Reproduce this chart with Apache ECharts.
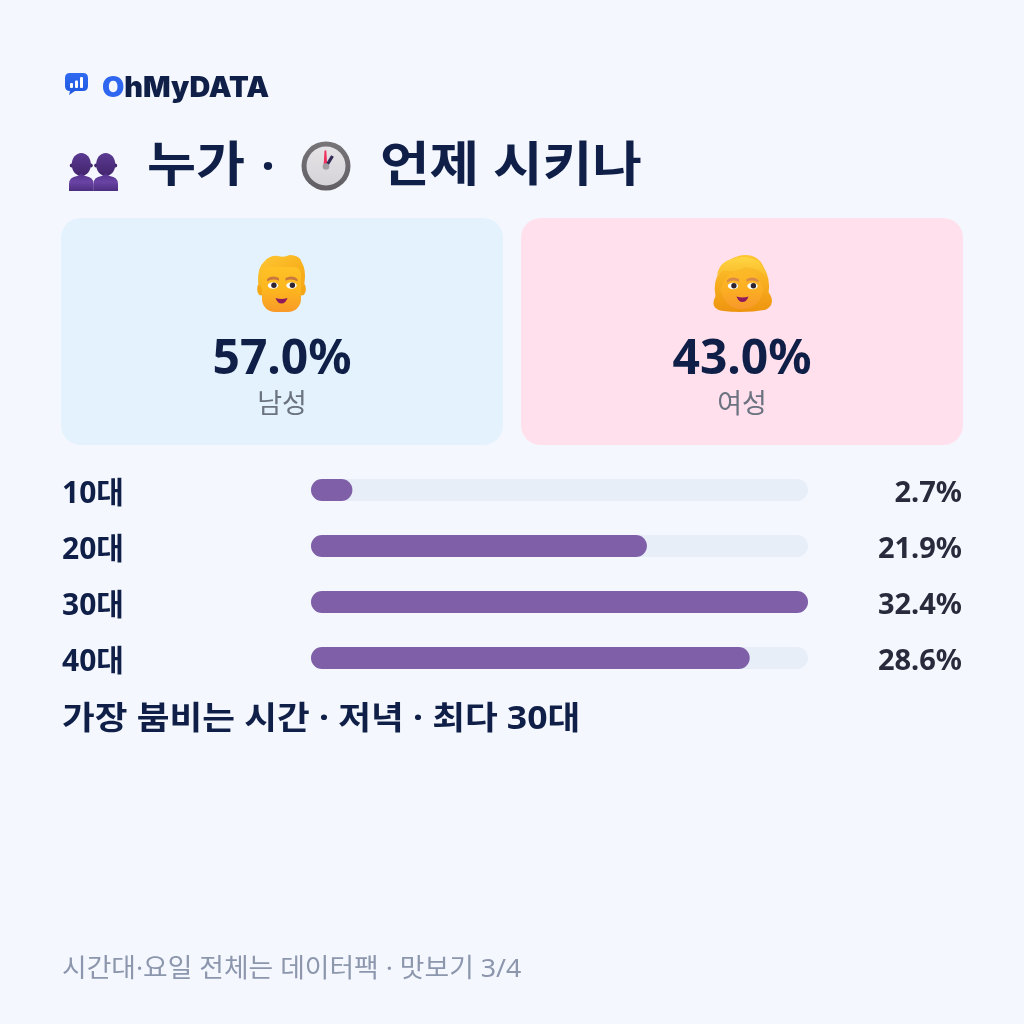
<!DOCTYPE html>
<html lang="ko">
<head>
<meta charset="utf-8">
<title>누가 · 언제 시키나</title>
<style>html,body{margin:0;padding:0;background:#f4f7fe}#chart{width:1024px;height:1024px}</style>
<script src="https://cdn.jsdelivr.net/npm/echarts@6/dist/echarts.min.js"></script>
</head>
<body>
<div id="chart"></div>
<script>
// Order stats shown on the card
const ageGroups = ['10대', '20대', '30대', '40대'];
const ageShares = [2.7, 21.9, 32.4, 28.6];
const genderLabels = ['남성', '여성'];
const genderShares = [57.0, 43.0];
const brandHead = 'O';
const brandTail = 'hMyDATA';
const titleWho = '누가';
const titleDot = '·';
const titleWhen = '언제 시키나';
const peakNote = '가장 붐비는 시간 · 저녁 · 최다 30대';
const footerNote = '시간대·요일 전체는 데이터팩 · 맛보기 3/4';

const FONT = '"Noto Sans", "Noto Sans CJK KR", sans-serif';
const NAVY = '#0f1f47';

const grad = (stops, x = 0, y = 0, x2 = 0, y2 = 1) => ({
  type: 'linear', x, y, x2, y2,
  colorStops: stops.map((c, i) => ({ offset: i / (stops.length - 1), color: c }))
});
// Hangul is set a little wider than the installed face, hence the horizontal stretch
const label = (x, y, text, size, color, weight, align, stretch) => ({
  type: 'text', x, y, z: 5, scaleX: stretch || 1,
  style: { text, fill: color, font: `${weight} ${size}px ${FONT}`, textAlign: align || 'left', textVerticalAlign: 'middle' }
});
const circle = (cx, cy, r, fill, z) => ({ type: 'circle', shape: { cx, cy, r }, style: { fill }, z: z || 4 });
const ellipse = (cx, cy, rx, ry, fill, z) => ({ type: 'ellipse', shape: { cx, cy, rx, ry }, style: { fill }, z: z || 4 });

// Free-form icon outlines: each outline becomes a registered shape, scaled into its box
let outlineCount = 0;
const svg = (d, fill, x, y, w, h, z) => {
  const name = 'iconOutline' + (outlineCount++);
  const Outline = echarts.graphic.extendPath(d, {});
  echarts.graphic.registerShape(name, Outline);
  const box = new Outline().getBoundingRect();
  const sx = w / box.width, sy = h / box.height;
  return { type: name, x: x - box.x * sx, y: y - box.y * sy, scaleX: sx, scaleY: sy, style: { fill }, z: z || 4 };
};

// Speech-bubble logo with three small bars
function logoIcon() {
  return [
    svg('M5 0H18Q23 0 23 5V13Q23 18 18 18H10L4 22L5 18Q0 18 0 13V5Q0 0 5 0Z', grad(['#2f6bf0', '#1f57e0']), 65, 73, 23, 22),
    { type: 'rect', shape: { x: 70, y: 83, width: 3, height: 5, r: 1 }, style: { fill: '#fff' }, z: 5 },
    { type: 'rect', shape: { x: 75, y: 80.5, width: 3, height: 7.5, r: 1 }, style: { fill: '#fff' }, z: 5 },
    { type: 'rect', shape: { x: 80, y: 77, width: 3, height: 11, r: 1 }, style: { fill: '#fff' }, z: 5 }
  ];
}

// One silhouette of the two-people icon
function bust(cx) {
  return [
    circle(cx - 9.6, 165.5, 1.9, '#3f2568'),
    circle(cx + 9.6, 165.5, 1.9, '#3f2568'),
    ellipse(cx, 164.5, 9.6, 11.5, grad(['#5b3a92', '#41246c'])),
    svg('M0 18V11Q0 4 8 3Q11 2 12 0Q13 2 16 3Q24 4 24 11V18Z', grad(['#4f2f88', '#6a44a4', '#4c2d80']), cx - 12.3, 173, 24.6, 18)
  ];
}

function peopleIcon() {
  return [...bust(105.7), ...bust(81.3)];
}

function clockIcon() {
  return [
    circle(326, 166, 24.5, grad(['#787579', '#615e64'])),
    circle(326, 166, 19.5, grad(['#e6e3e7', '#d6d3d8'])),
    svg('M1 0H3L4 16H0Z', '#f0305c', 323.6, 150.5, 3.6, 15, 5),
    { type: 'line', shape: { x1: 327, y1: 165, x2: 332.5, y2: 156 }, style: { stroke: '#352a55', lineWidth: 3.2 }, z: 5 },
    circle(326, 166.5, 3.3, '#a19ea3', 6)
  ];
}

// Eyes, brows and smile shared by the two face icons
function faceBits(lx, rx, eyeY, browY, mouthX, mouthY, browColor) {
  const eye = (x) => [
    ellipse(x, eyeY, 5.2, 3.2, '#fff', 5),
    circle(x + 0.9, eyeY - 0.2, 2.7, '#2d2430', 6)
  ];
  return [
    ...eye(lx), ...eye(rx),
    svg('M0 4Q5 -1 11 3V6Q5 3 0 7Z', browColor, lx - 6, browY, 12, 5, 5),
    svg('M0 3Q6 -1 11 4V7Q6 3 0 6Z', browColor, rx - 6, browY, 12, 5, 5),
    svg('M0 0Q6 2 12 0Q10 6 6 6Q2 6 0 0Z', '#8e1a5c', mouthX, mouthY, 12, 5.5, 5)
  ];
}

function manIcon() {
  return [
    ellipse(261, 289, 3.8, 6.5, '#f3a715'),
    ellipse(302, 289, 3.8, 6.5, '#f3a715'),
    svg('M0 30Q-1 14 6 8Q12 1 20 2Q26 4 32 1Q42 1 44 8Q49 16 47 30L43 36H4Z',
      grad(['#ffc834', '#f7ab18'], 0, 0, 0.5, 1), 258, 255, 47, 34),
    { type: 'rect', shape: { x: 262, y: 267, width: 39, height: 45, r: [7, 7, 13, 13] },
      style: { fill: grad(['#ffc226', '#fdb61e', '#f89a28']) }, z: 4 },
    ...faceBits(273, 291.5, 285.5, 276.5, 275.5, 298, '#c8783c')
  ];
}

function womanIcon() {
  return [
    svg('M8 57Q-4 54 2 42Q-1 26 7 17Q12 3 28 0Q44 -2 50 12Q57 24 55 38Q63 50 52 56Q30 60 8 57Z',
      grad(['#fdc732', '#f7ad1e', '#ee9410']), 713.5, 255, 58.5, 57),
    ellipse(723, 288, 3.5, 5.5, '#f5ac22'),
    ellipse(761, 288, 3.5, 5.5, '#f5ac22'),
    ellipse(742, 290, 20.5, 19, grad(['#fdba28', '#fcae22', '#f7982c']), 4),
    svg('M0 22Q2 6 16 3Q30 -3 44 5Q52 11 54 24Q46 12 30 12Q20 18 10 16Q4 16 0 22Z',
      grad(['#ffd542', '#f9b828']), 717, 257, 50, 21, 4),
    ...faceBits(733, 752.5, 286, 277.5, 736.5, 296.5, '#d98a4a')
  ];
}

const chart = echarts.init(document.getElementById('chart'));

// The rows of text sit a few pixels lower than the bars, so the two have separate grids
const rowAxisBase = { type: 'category', inverse: true, gridIndex: 1, axisLine: { show: false }, axisTick: { show: false } };

chart.setOption({
  backgroundColor: '#f4f7fe',
  animation: false,
  textStyle: { fontFamily: FONT },
  grid: [
    { left: 311, width: 497, top: 462, height: 224 },
    { left: 311, width: 497, top: 466, height: 224 }
  ],
  xAxis: [
    { type: 'value', gridIndex: 0, min: 0, max: Math.max(...ageShares), show: false },
    { type: 'value', gridIndex: 1, min: 0, max: Math.max(...ageShares), show: false }
  ],
  yAxis: [
    { type: 'category', inverse: true, gridIndex: 0, data: ageGroups, show: false },
    {
      ...rowAxisBase, data: ageGroups,
      axisLabel: { align: 'left', margin: 249, fontFamily: FONT, fontSize: 30, fontWeight: 700, color: NAVY }
    },
    {
      ...rowAxisBase, data: ageShares.map(v => v.toFixed(1) + '%'), position: 'right',
      axisLabel: { align: 'right', margin: 154, fontFamily: FONT, fontSize: 29, fontWeight: 700, color: '#272b3b' }
    }
  ],
  series: [{
    type: 'bar',
    data: ageShares,
    barWidth: 22,
    silent: true,
    showBackground: true,
    backgroundStyle: { color: '#e8eef8', borderRadius: 11 },
    itemStyle: { color: '#7e5fa8', borderRadius: 11 }
  }],
  graphic: {
    elements: [
      ...logoIcon(),
      {
        type: 'text', x: 102, y: 88.5, z: 5, scaleX: 1.03,
        style: {
          text: `{a|${brandHead}}{b|${brandTail}}`,
          verticalAlign: 'middle',
          rich: {
            a: { fill: '#2f66f0', font: `900 28px Inter, ${FONT}` },
            b: { fill: NAVY, font: `900 28px Inter, ${FONT}` }
          }
        }
      },
      ...peopleIcon(),
      label(147, 167, titleWho, 48, NAVY, 700, 'left', 1.11),
      label(268, 169, titleDot, 48, NAVY, 700, 'center'),
      ...clockIcon(),
      label(380, 167, titleWhen, 48, NAVY, 700, 'left', 1.122),
      { type: 'rect', shape: { x: 61, y: 218, width: 442, height: 227, r: 20 }, style: { fill: '#e3f2fd' }, z: 1 },
      { type: 'rect', shape: { x: 521, y: 218, width: 442, height: 227, r: 20 }, style: { fill: '#ffe0ec' }, z: 1 },
      ...manIcon(),
      ...womanIcon(),
      label(282, 360, genderShares[0].toFixed(1) + '%', 48, NAVY, 700, 'center'),
      label(742, 360, genderShares[1].toFixed(1) + '%', 48, NAVY, 700, 'center'),
      label(282, 405, genderLabels[0], 27, '#6b7280', 400, 'center'),
      label(742, 405, genderLabels[1], 27, '#6b7280', 400, 'center'),
      label(62, 720, peakNote, 32, NAVY, 700, 'left', 1.112),
      label(62, 970, footerNote, 26, '#8c97ad', 400, 'left', 1.03)
    ]
  }
});
</script>
</body>
</html>
